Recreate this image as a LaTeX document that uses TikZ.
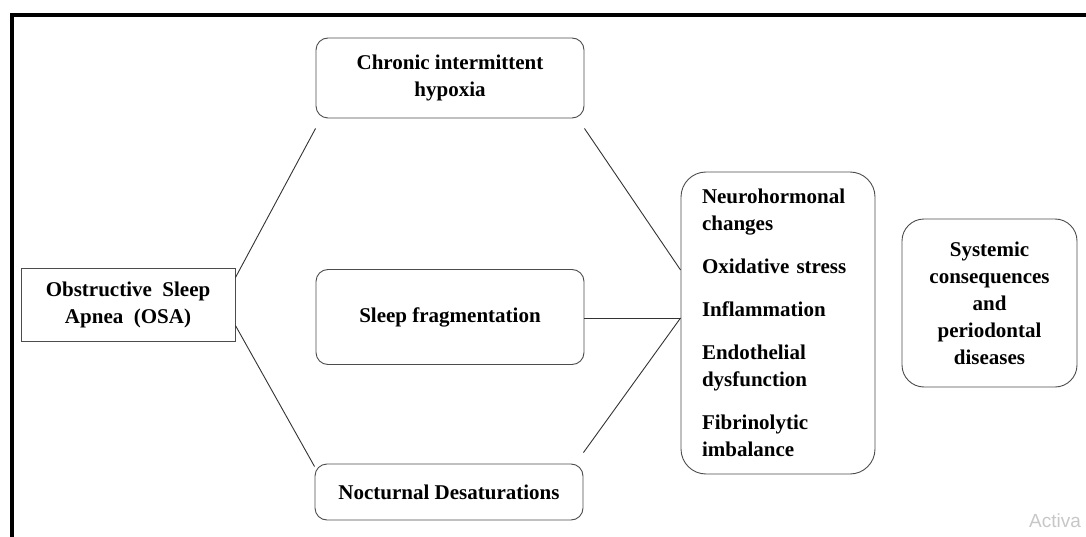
\documentclass[tikz,border=0pt]{standalone}
\usepackage{fontspec}
\setmainfont{Liberation Serif}
\newfontfamily\wmfont{Liberation Sans}
\usetikzlibrary{calc}

\begin{document}
\begin{tikzpicture}[
    x=1pt, y=-1pt,
    box/.style={rectangle, rounded corners=12pt, draw=black!70, line width=0.9pt, align=center, inner sep=0pt, font=\fontsize{21}{27}\selectfont\bfseries},
    link/.style={black!80, line width=0.9pt}
]
\useasboundingbox (0,0) rectangle (1086,537);

% frame
\draw[line width=3.6pt] (12,540) -- (12,15) -- (1088,15);

% OSA
\node[box, sharp corners, minimum width=214pt, minimum height=73pt] (osa) at (128,304.5) {Obstructive~~Sleep\\Apnea~~(OSA)};

% three mechanisms
\node[box, minimum width=268pt, minimum height=80pt] (chr) at (450,78) {Chronic intermittent\\hypoxia};
\node[box, minimum width=268pt, minimum height=95pt] (frag) at (450,317) {Sleep fragmentation};
\node[box, minimum width=268pt, minimum height=56pt] (noct) at (449,492) {Nocturnal Desaturations};

% pathways
\node[box, rounded corners=25pt, minimum width=194pt, minimum height=302pt, align=left, text width=152pt] (mech) at (778,323)
    {Neurohormonal\\changes\\[16pt]Oxidative stress\\[16pt]Inflammation\\[16pt]Endothelial\\dysfunction\\[16pt]Fibrinolytic\\imbalance};

% outcome
\node[box, rounded corners=22pt, minimum width=175pt, minimum height=168pt] (sys) at (989.5,303)
    {Systemic\\consequences\\and\\periodontal\\diseases};

% lines from OSA
\draw[link] ($(osa.north east)+(0,10)$) -- ($(chr.south west)+(0,10)$);
\draw[link] ($(osa.east)+(0,20)$) -- ($(osa.east)+(0,20)$ -| frag.west);
\draw[link] ($(osa.east)+(0,21)$) -- ($(noct.north west)+(0,3)$);

% lines into the pathways box
\draw[link] ($(chr.south east)+(0,10)$) -- ($(mech.west)+(0,-53)$);
\draw[link] ($(frag.east)+(0,1)$) -- ($(mech.west)+(0,-5)$);
\draw[link] ($(noct.north east)+(0,-11)$) -- ($(mech.west)+(0,-5)$);

% to the outcome
\draw[link] ($(mech.east)+(0,-10)$) -- ($(mech.east)+(0,-10)$ -| sys.west);

% watermark
\node[anchor=west, inner sep=0pt, text=black!22, font=\wmfont\fontsize{19}{19}\selectfont] (wm) at (1029,521) {Activa};

\end{tikzpicture}
\end{document}
